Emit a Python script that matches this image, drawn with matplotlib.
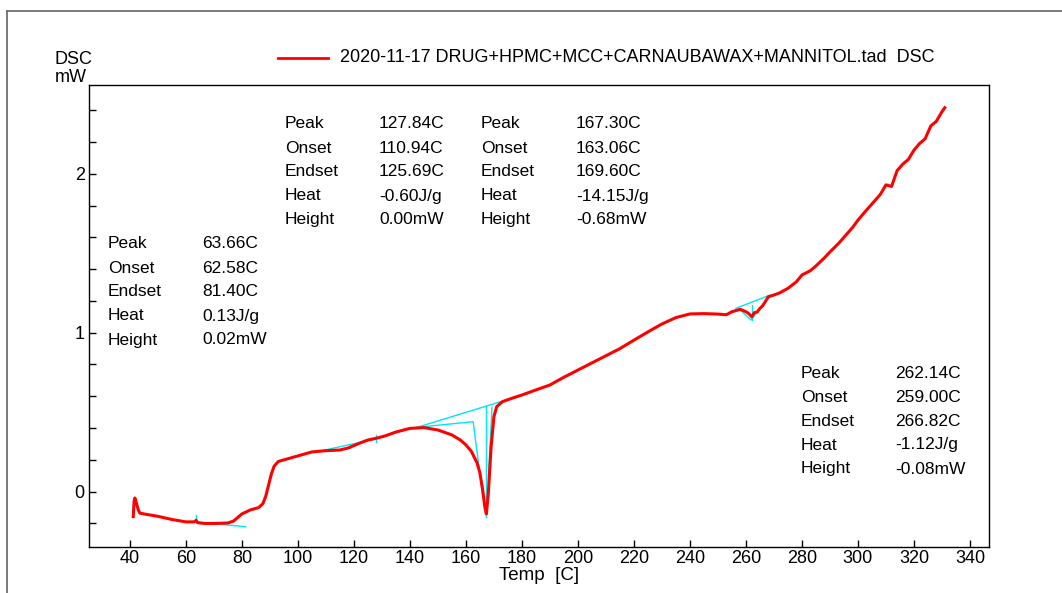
import matplotlib
matplotlib.use("Agg")
import matplotlib.pyplot as plt
from matplotlib.lines import Line2D

plt.rcParams['font.family'] = ['Liberation Sans', 'DejaVu Sans']

# ---- data ----
temp = [41.2, 41.5, 41.8, 42.3, 43.0, 43.6, 45, 50, 55, 60, 63, 63.66, 64.2, 67, 70,
        75, 77, 80, 83, 86, 87.5, 88.5, 89.5, 90.5, 91.5, 93, 95, 100, 105, 110, 115,
        118, 122, 125, 128, 131, 135, 140, 145, 150, 155, 158, 160, 162, 164, 165,
        166, 166.7, 167.3, 168, 169, 170, 171, 173, 176, 180, 185, 190, 195, 200,
        205, 210, 215, 220, 225, 230, 235, 240, 245, 250, 253, 255, 258, 260, 261,
        262.1, 263, 264, 265, 266, 268, 270, 272, 275, 278, 280, 283, 285, 288, 290,
        293, 295, 298, 300, 303, 305, 308, 310, 312, 314, 316, 318, 320, 322, 324,
        326, 328, 330, 331]
dsc = [-0.157, -0.06, -0.04, -0.07, -0.115, -0.135, -0.14, -0.155, -0.175, -0.19,
       -0.19, -0.18, -0.195, -0.2, -0.2, -0.197, -0.185, -0.14, -0.115, -0.1, -0.075,
       -0.03, 0.04, 0.11, 0.16, 0.19, 0.2, 0.225, 0.25, 0.258, 0.262, 0.275, 0.305,
       0.325, 0.336, 0.35, 0.375, 0.398, 0.403, 0.388, 0.357, 0.325, 0.294, 0.252,
       0.18, 0.117, 0.01, -0.09, -0.14, -0.01, 0.283, 0.472, 0.535, 0.566, 0.585,
       0.608, 0.64, 0.671, 0.72, 0.765, 0.81, 0.855, 0.9, 0.953, 1.005, 1.055, 1.095,
       1.118, 1.12, 1.117, 1.113, 1.132, 1.147, 1.132, 1.12, 1.10, 1.126, 1.13, 1.153,
       1.17, 1.226, 1.237, 1.25, 1.279, 1.32, 1.363, 1.39, 1.42, 1.47, 1.508, 1.56,
       1.6, 1.66, 1.708, 1.77, 1.81, 1.87, 1.93, 1.92, 2.02, 2.06, 2.09, 2.148, 2.19,
       2.22, 2.30, 2.33, 2.39, 2.415]

# analysis construction lines (cyan)
base1_t = [61.4, 81.4];   base1_y = [-0.189, -0.22]
tick1_t = [63.66, 63.66]; tick1_y = [-0.189, -0.147]
base2_t = [109.6, 127.5]; base2_y = [0.262, 0.33]
tick2_t = [127.84, 127.84]; tick2_y = [0.31, 0.357]
base3_t = [142.6, 172.4]; base3_y = [0.405, 0.566]
ons3_t = [142.6, 162.6, 166.0]; ons3_y = [0.405, 0.44, -0.03]
tick3_t = [167.05, 167.05]; tick3_y = [0.539, -0.157]
end3_t = [169.3, 168.1]; end3_y = [0.53, 0.105]
base4_t = [256.4, 268.6]; base4_y = [1.153, 1.237]
ons4_t = [257.5, 261.8, 265.0]; ons4_y = [1.15, 1.08, 1.15]
tick4_t = [262.14, 262.14]; tick4_y = [1.174, 1.08]

xticks = [40, 60, 80, 100, 120, 140, 160, 180, 200, 220, 240, 260, 280, 300, 320, 340]
yticks = [0, 1, 2]

blocks = [
    (108, 202, 244, [("Peak", "63.66C"), ("Onset", "62.58C"), ("Endset", "81.40C"),
                     ("Heat", "0.13J/g"), ("Height", "0.02mW")]),
    (285, 379, 124, [("Peak", "127.84C"), ("Onset", "110.94C"), ("Endset", "125.69C"),
                     ("Heat", "-0.60J/g"), ("Height", "0.00mW")]),
    (481, 576, 124, [("Peak", "167.30C"), ("Onset", "163.06C"), ("Endset", "169.60C"),
                     ("Heat", "-14.15J/g"), ("Height", "-0.68mW")]),
    (801, 895, 373, [("Peak", "262.14C"), ("Onset", "259.00C"), ("Endset", "266.82C"),
                     ("Heat", "-1.12J/g"), ("Height", "-0.08mW")]),
]

W, H = 1062, 593
fig = plt.figure(figsize=(W / 100, H / 100), dpi=100)
ax = fig.add_axes([89 / W, 1 - 547 / H, (989 - 89) / W, (547 - 85) / H])

cy = '#00e5ee'
for t, y in [(base1_t, base1_y), (tick1_t, tick1_y), (base2_t, base2_y),
             (tick2_t, tick2_y), (base3_t, base3_y), (ons3_t, ons3_y),
             (tick3_t, tick3_y), (end3_t, end3_y), (base4_t, base4_y),
             (ons4_t, ons4_y), (tick4_t, tick4_y)]:
    ax.plot(t, y, color=cy, lw=1.0, zorder=2)
ax.plot(temp, dsc, color='#ff0000', lw=2.2, zorder=3, solid_joinstyle='round')

ax.set_xlim(25.4, 346.8)
ax.set_ylim(-0.348, 2.558)
ax.set_xticks(xticks)
ax.set_yticks(yticks)
ax.set_yticks([v / 10 for v in range(-2, 26, 2)], minor=True)
ax.tick_params(axis='both', which='both', direction='in', labelsize=13, length=5,
               width=1, pad=3)
ax.tick_params(axis='x', pad=2)
ax.tick_params(axis='x', which='minor', bottom=False)
for s in ax.spines.values():
    s.set_linewidth(1.0)
xl = ax.set_xlabel("Temp  [C]", fontsize=13.5, labelpad=0)
xl.set_verticalalignment('center')
ax.xaxis.set_label_coords(0.5, -(575 - 547) / (547 - 85))

fig.text(55 / W, 1 - 60 / H, "DSC", fontsize=13, va='center', ha='left')
fig.text(55 / W, 1 - 77 / H, "mW", fontsize=13, va='center', ha='left')

# legend
fig.add_artist(Line2D([278 / W, 328 / W], [1 - 58 / H, 1 - 58 / H], color='#ff0000', lw=2))
fig.text(340 / W, 1 - 58 / H, "2020-11-17 DRUG+HPMC+MCC+CARNAUBAWAX+MANNITOL.tad  DSC",
         fontsize=13, va='center', ha='left')

for lx, vx, y0, rows in blocks:
    for i, (lab, val) in enumerate(rows):
        yy = y0 + i * 24
        fig.text(lx / W, 1 - yy / H, lab, fontsize=12.5, va='center', ha='left')
        fig.text(vx / W, 1 - yy / H, val, fontsize=12.5, va='center', ha='left')

# outer frame
fig.add_artist(Line2D([7 / W, 7 / W], [0, 1 - 11 / H], color='#707070', lw=1.3))
fig.add_artist(Line2D([7 / W, 1], [1 - 11 / H, 1 - 11 / H], color='#707070', lw=1.3))

fig.savefig("out.png", dpi=100)
